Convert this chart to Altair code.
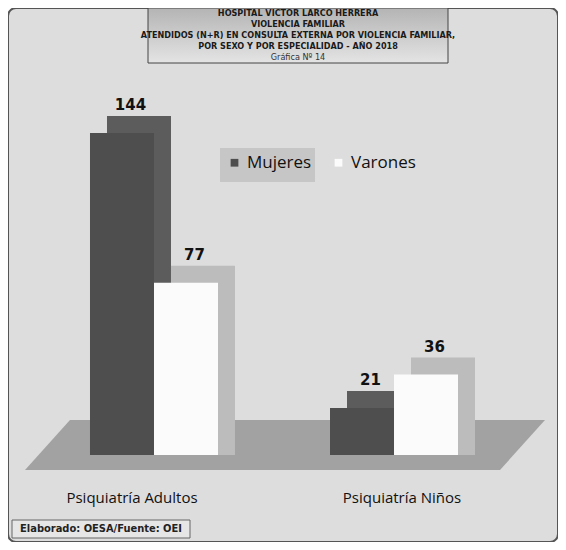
import altair as alt
import pandas as pd

# ---- data ----
categories = ["Psiquiatría Adultos", "Psiquiatría Niños"]
sexes = ["Mujeres", "Varones"]
mujeres = [144, 21]
varones = [77, 36]

title_lines = [
    "HOSPITAL VICTOR LARCO HERRERA",
    "VIOLENCIA FAMILIAR",
    "ATENDIDOS (N+R) EN CONSULTA EXTERNA POR VIOLENCIA FAMILIAR,",
    "POR SEXO Y POR ESPECIALIDAD - AÑO 2018",
]
subtitle_line = "Gráfica Nº 14"
footer_text = "Elaborado: OESA/Fuente: OEI"

rows = []
for i, c in enumerate(categories):
    rows.append({"esp": c, "sexo": "Mujeres", "n": mujeres[i]})
    rows.append({"esp": c, "sexo": "Varones", "n": varones[i]})
df = pd.DataFrame(rows)

W, H = 550, 534
DEPTH = 17
BAND = 128
FONT = "DejaVu Sans"

x_enc = alt.X("esp:N", sort=categories, title=None,
              scale=alt.Scale(range=[26, 506], paddingInner=0.4667, paddingOuter=0.2333),
              axis=alt.Axis(domain=False, ticks=False, offset=-45, labelPadding=0,
                            labelBaseline="middle", labelAngle=0, labelFontSize=15,
                            labelFont="Open Sans", labelColor="#111",
                            labelOffset={"condition": {"test": "datum.value == 'Psiquiatría Adultos'",
                                                       "value": -22},
                                         "value": 8}))
xo_front = alt.XOffset("sexo:N", sort=sexes,
                       scale=alt.Scale(paddingInner=0, paddingOuter=0))
xo_depth = alt.XOffset("sexo:N", sort=sexes,
                       scale=alt.Scale(range=[DEPTH, BAND + DEPTH], paddingInner=0, paddingOuter=0))
xo_label = alt.XOffset("sexo:N", sort=sexes,
                       scale=alt.Scale(type="point", range=[DEPTH / 2, BAND + DEPTH / 2], padding=0.5))
y_enc = alt.Y("n:Q", title=None, axis=None,
              scale=alt.Scale(domain=[-38.9, 199.9], nice=False, zero=False))

base = alt.Chart(df)
one = pd.DataFrame({"k": [0]})

# floor (decorative parallelogram)
floor = alt.Chart(one).mark_point(
    shape="M -0.827 -0.096 L 1 -0.096 L 0.827 0.096 L -1 0.096 Z",
    filled=True, opacity=1, color="#a2a2a2", size=270400, strokeWidth=0
).encode(x=alt.value(277), y=alt.value(437))

depth = base.transform_calculate(
    dc="datum.sexo == 'Mujeres' ? '#5c5c5c' : '#bcbcbc'"
).mark_bar(yOffset=-DEPTH).encode(
    x=x_enc, xOffset=xo_depth, y=y_enc, y2=alt.datum(0),
    color=alt.Color("dc:N", scale=None)
)

front = base.mark_bar().encode(
    x=x_enc, xOffset=xo_front, y=y_enc, y2=alt.datum(0),
    color=alt.Color("sexo:N", sort=sexes,
                    scale=alt.Scale(domain=sexes, range=["#4e4e4e", "#fbfbfb"]),
                    legend=alt.Legend(title=None, orient="none", legendX=218, legendY=146,
                                      direction="horizontal", symbolType="square",
                                      symbolSize=60, symbolStrokeWidth=0,
                                      labelFontSize=17, labelFont="Open Sans",
                                      labelColor="#111", columnPadding=18))
)

labels = base.mark_text(baseline="bottom", dy=-DEPTH - 3,
                        fontWeight="bold", fontSize=15, font=FONT, color="#111").encode(
    x=x_enc, xOffset=xo_label, y=y_enc, text="n:Q"
)

legend_box = alt.Chart(one).mark_rect(color="#c6c6c6").encode(
    x=alt.value(212), x2=alt.value(307), y=alt.value(140), y2=alt.value(174)
)

title_box = alt.Chart(one).mark_rect(
    fill=alt.Gradient(gradient="linear", x1=0, x2=0, y1=0, y2=1,
                      stops=[alt.GradientStop(color="#b4b4b4", offset=0),
                             alt.GradientStop(color="#e4e4e4", offset=1)]),
    stroke="#444", strokeWidth=1
).encode(x=alt.value(140), x2=alt.value(440), y=alt.value(0), y2=alt.value(55))
title_txt = alt.Chart(one).mark_text(
    text=title_lines, lineHeight=11, baseline="top", align="center",
    font="DejaVu Sans Condensed", fontWeight="bold", fontSize=9, color="#1a1a1a"
).encode(x=alt.value(290), y=alt.value(1))
sub_txt = alt.Chart(one).mark_text(
    text=subtitle_line, baseline="top", align="center",
    font="DejaVu Sans Condensed", fontSize=9, color="#333"
).encode(x=alt.value(290), y=alt.value(45))

footer_box = alt.Chart(one).mark_rect(fill="#e6e6e6", stroke="#666", strokeWidth=1).encode(
    x=alt.value(4), x2=alt.value(182), y=alt.value(512), y2=alt.value(530)
)
footer_txt = alt.Chart(one).mark_text(
    text=footer_text, baseline="middle", align="center",
    font="DejaVu Sans Condensed", fontWeight="bold", fontSize=11, color="#222"
).encode(x=alt.value(93), y=alt.value(521))

chart = alt.layer(
    floor, legend_box, depth, front, labels, title_box, title_txt, sub_txt, footer_box, footer_txt
).resolve_scale(color="independent", xOffset="independent").properties(
    width=W, height=H,
    autosize=alt.AutoSizeParams(type="none"),
    padding=0,
    background="#ffffff",
).configure_view(
    fill="#dddddd", stroke="#555555", strokeWidth=2, cornerRadius=8
)

chart.save("out.html", embed_options={"renderer": "svg", "actions": False})
